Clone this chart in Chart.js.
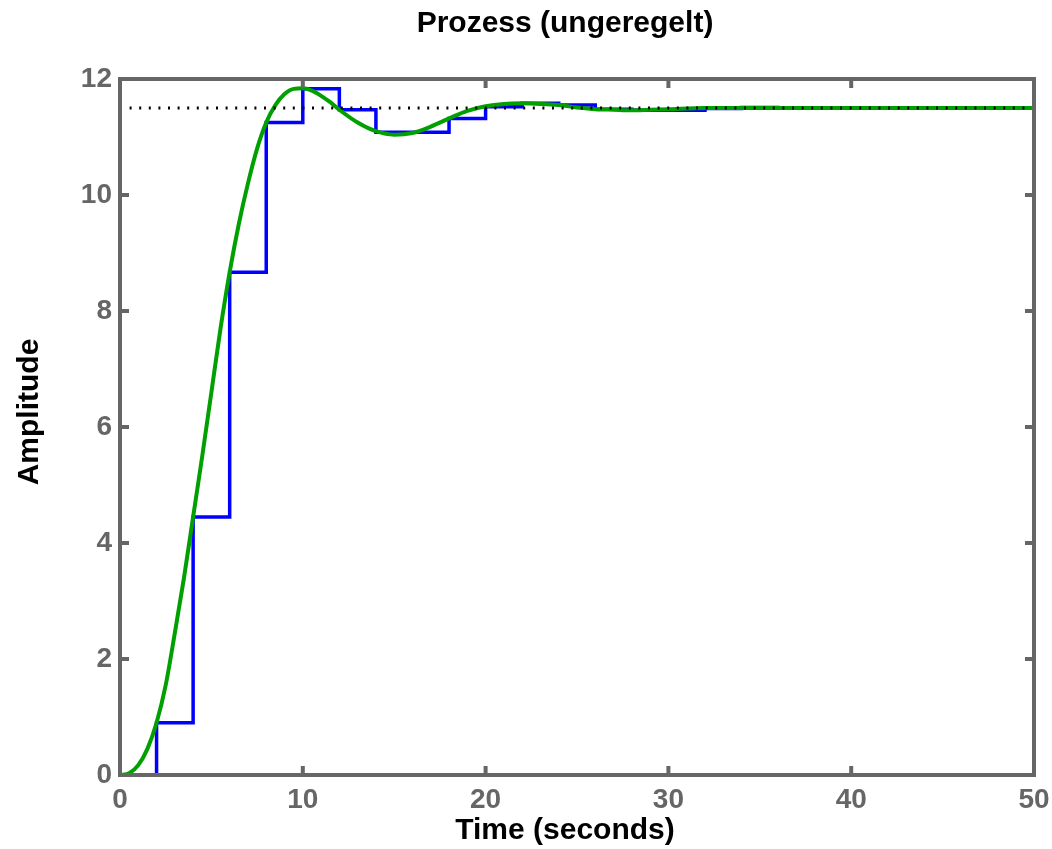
<!DOCTYPE html>
<html>
<head>
<meta charset="utf-8">
<title>Prozess (ungeregelt)</title>
<script src="https://cdn.jsdelivr.net/npm/chart.js@4/dist/chart.umd.min.js"></script>
<style>
  html, body { margin: 0; padding: 0; background: #fff; }
  #box { width: 1052px; height: 849px; }
</style>
</head>
<body>
<div id="box"><canvas id="myChartStep"></canvas></div>
<script>
// abgetastete Sprungantwort (Halteglied, T = 2 s)
const sampleTimes = [0, 2, 4, 6, 8, 10, 12, 14, 16, 18, 20, 22, 24, 26, 28, 30, 32, 34, 36, 38, 40, 42, 44, 46, 48, 50];
const sampleValues = [0, 0.9, 4.45, 8.67, 11.25, 11.83, 11.47, 11.08, 11.08, 11.32, 11.52, 11.58, 11.55, 11.48, 11.46, 11.46, 11.49, 11.51, 11.5, 11.5, 11.5, 11.5, 11.5, 11.5, 11.5, 11.5];

// kontinuierliche Sprungantwort
const responseTimes = [0, 0.5, 1, 1.5, 2, 2.5, 3, 3.5, 4, 4.5, 5, 5.5, 6, 6.5, 7, 7.5, 8, 8.5, 9, 9.5, 10, 10.5, 11, 11.5, 12, 13, 14, 15, 16, 17, 18, 19, 20, 21, 22, 23, 24, 25, 26, 27, 28, 29, 30, 32, 35, 40, 45, 50];
const responseValues = [0, 0.03, 0.17, 0.45, 0.9, 1.55, 2.45, 3.4, 4.45, 5.5, 6.6, 7.7, 8.67, 9.5, 10.2, 10.8, 11.25, 11.55, 11.74, 11.83, 11.84, 11.8, 11.71, 11.6, 11.47, 11.25, 11.1, 11.04, 11.07, 11.18, 11.32, 11.45, 11.53, 11.57, 11.58, 11.57, 11.55, 11.51, 11.48, 11.47, 11.46, 11.47, 11.48, 11.5, 11.5, 11.5, 11.5, 11.5];

// Endwert
const steadyTimes = [0, 50];
const steadyValues = [11.5, 11.5];

const xTicks = [0, 10, 20, 30, 40, 50];
const yTicks = [0, 2, 4, 6, 8, 10, 12];

const fontFamily = "'Liberation Sans', Arial, Helvetica, sans-serif";
const axisGray = '#666666';

const toPoints = (xs, ys) => xs.map((x, i) => ({ x: x, y: ys[i] }));

// Rahmen mit nach innen zeigenden Ticks auf allen vier Seiten
const axesFrame = {
  id: 'axesFrame',
  afterDatasetsDraw(chart) {
    const { ctx, chartArea: { left, top, right, bottom }, scales: { x, y } } = chart;
    ctx.save();
    ctx.strokeStyle = axisGray;
    ctx.lineWidth = 4;
    ctx.strokeRect(left, top, right - left, bottom - top);
    ctx.beginPath();
    xTicks.forEach(v => {
      const px = x.getPixelForValue(v);
      ctx.moveTo(px, bottom); ctx.lineTo(px, bottom - 9);
      ctx.moveTo(px, top); ctx.lineTo(px, top + 9);
    });
    yTicks.forEach(v => {
      const py = y.getPixelForValue(v);
      ctx.moveTo(left, py); ctx.lineTo(left + 9, py);
      ctx.moveTo(right, py); ctx.lineTo(right - 9, py);
    });
    ctx.stroke();
    ctx.restore();
  }
};

// Titel und Achsenbeschriftungen
const axesLabels = {
  id: 'axesLabels',
  afterDraw(chart) {
    const { ctx } = chart;
    ctx.save();
    ctx.fillStyle = '#000';
    ctx.font = 'bold 30px ' + fontFamily;
    ctx.textAlign = 'center';
    ctx.textBaseline = 'alphabetic';
    ctx.fillText('Prozess (ungeregelt)', 565, 32);
    ctx.fillText('Time (seconds)', 565, 839);
    ctx.translate(38, 412);
    ctx.rotate(-Math.PI / 2);
    ctx.fillText('Amplitude', 0, 0);
    ctx.restore();
  }
};

const dataStep = {
  datasets: [{
    label: 'Endwert',
    data: toPoints(steadyTimes, steadyValues),
    borderColor: '#000000',
    borderWidth: 3,
    borderDash: [2, 7.6],
    pointRadius: 0,
    fill: false
  }, {
    label: 'kontinuierlich',
    data: toPoints(responseTimes, responseValues),
    borderColor: 'rgb(0, 160, 0)',
    borderWidth: 4,
    cubicInterpolationMode: 'monotone',
    pointRadius: 0,
    fill: false
  }, {
    label: 'abgetastet',
    data: toPoints(sampleTimes, sampleValues),
    borderColor: 'rgb(0, 0, 255)',
    borderWidth: 3.5,
    stepped: 'before',
    pointRadius: 0,
    fill: false
  }]
};

const tickFont = { family: fontFamily, size: 28, weight: 'bold' };

const configStep = {
  type: 'line',
  data: dataStep,
  options: {
    responsive: true,
    maintainAspectRatio: false,
    animation: false,
    layout: {
      padding: { top: 79, right: 18, bottom: 0, left: 0 }
    },
    plugins: {
      legend: { display: false },
      tooltip: { enabled: false },
      title: { display: false }
    },
    scales: {
      x: {
        type: 'linear',
        min: 0,
        max: 50,
        afterBuildTicks: scale => { scale.ticks = xTicks.map(v => ({ value: v })); },
        afterFit: scale => {
          scale.height = 74;
          scale.paddingLeft = 0;
          scale.paddingRight = 0;
        },
        grid: { display: false, drawTicks: false },
        border: { display: false },
        ticks: { color: axisGray, font: tickFont, padding: 8, maxRotation: 0 }
      },
      y: {
        type: 'linear',
        min: 0,
        max: 12,
        afterBuildTicks: scale => { scale.ticks = yTicks.map(v => ({ value: v })); },
        afterFit: scale => { scale.width = 120; },
        grid: { display: false, drawTicks: false },
        border: { display: false },
        ticks: { color: axisGray, font: tickFont, padding: 8 }
      }
    }
  },
  plugins: [axesFrame, axesLabels]
};

const myChartStep = new Chart(
  document.getElementById('myChartStep'),
  configStep
);
</script>
</body>
</html>
